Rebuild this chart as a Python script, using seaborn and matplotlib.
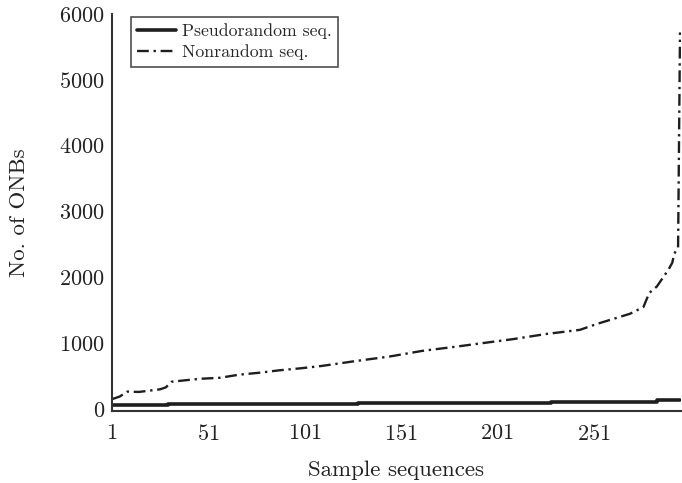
import matplotlib
matplotlib.use("Agg")
import matplotlib.pyplot as plt
import seaborn as sns
import numpy as np
import pandas as pd

# Nonrandom sequences (sorted counts)
muestras_nr = [1, 5, 9, 15, 26, 29, 32, 40, 47, 57, 67, 78, 88, 99, 110, 128, 145, 162,
               180, 197, 209, 227, 244, 253, 261, 270, 277, 280, 284, 287, 290, 292, 293,
               295, 296]
onb_nr = [150, 190, 265, 260, 300, 330, 415, 440, 460, 475, 522, 553, 589, 619, 655, 731,
          797, 883, 949, 1015, 1061, 1142, 1203, 1294, 1366, 1447, 1549, 1762, 1862, 1990,
          2117, 2223, 2360, 2450, 5720]

# Pseudorandom sequences (step levels)
muestras_ps = [1, 30, 129, 229, 284, 296]
onb_ps = [60, 75, 95, 110, 135, 135]

xticks = [1, 51, 101, 151, 201, 251]
yticks = [0, 1000, 2000, 3000, 4000, 5000, 6000]

df_nr = pd.DataFrame({'Muestra': muestras_nr, 'ONBs': onb_nr})
df_ps = pd.DataFrame({'Muestra': muestras_ps, 'ONBs': onb_ps})

sns.set_style("white")
plt.rcParams['font.family'] = ['cmr10', 'DejaVu Serif']
plt.rcParams['axes.formatter.use_mathtext'] = True

fig = plt.figure(figsize=(6.82, 4.83), dpi=100)
ax = fig.add_axes([0.1642, 0.149, 0.834, 0.822])

color = '#1e1e1e'
sns.lineplot(data=df_ps, x='Muestra', y='ONBs', ax=ax, color=color, linewidth=2.6,
             drawstyle='steps-post', label='Pseudorandom seq.')
sns.lineplot(data=df_nr, x='Muestra', y='ONBs', ax=ax, color=color, linewidth=1.7,
             linestyle=(0, (5, 2, 1, 2)), label='Nonrandom seq.')

ax.set_xlim(1, 296.4)
ax.set_ylim(-30, 6000)
ax.set_xticks(xticks)
ax.set_xticks(np.arange(1, 297, 5), minor=True)
ax.set_yticks(yticks)

for s in ['top', 'right']:
    ax.spines[s].set_visible(False)
for s in ['left', 'bottom']:
    ax.spines[s].set_color('#333333')
    ax.spines[s].set_linewidth(1.5)

ax.tick_params(axis='both', which='both', direction='out', color='#333333',
               width=1.2, length=5, labelsize=16, labelcolor='#222222')
ax.tick_params(axis='x', pad=4)
ax.tick_params(axis='y', length=3, pad=2)

ax.set_xlabel('Sample sequences', fontsize=16.5, labelpad=12, color='#222222')
ax.set_ylabel('No. of ONBs', fontsize=16.5, labelpad=22, color='#222222')

leg = ax.legend(loc='upper left', bbox_to_anchor=(0.033, 0.992), fontsize=12.8,
                frameon=True, fancybox=False, edgecolor='#222222', handlelength=2.2,
                borderpad=0.35, labelspacing=0.3, handletextpad=0.35, borderaxespad=0)
leg.get_frame().set_linewidth(1.2)

fig.savefig('out.png', dpi=100)
